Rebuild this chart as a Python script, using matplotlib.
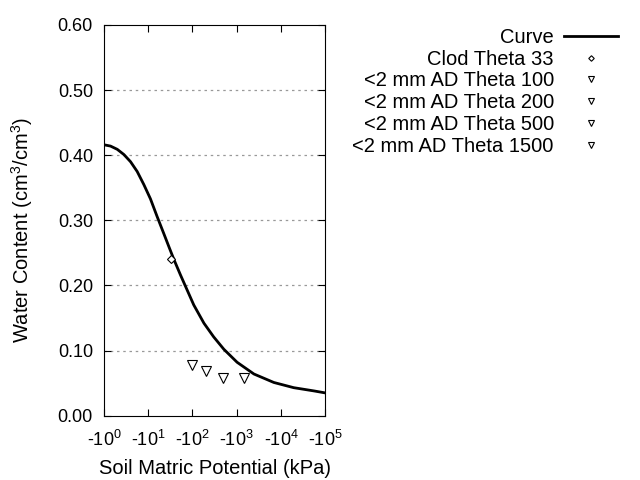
import numpy as np
import matplotlib
matplotlib.use('Agg')
import matplotlib.pyplot as plt
from matplotlib.ticker import FixedLocator, FixedFormatter

plt.rcParams['font.family'] = ['Liberation Sans', 'DejaVu Sans']
plt.rcParams['mathtext.default'] = 'regular'
plt.rcParams['axes.unicode_minus'] = False

# curve: decade of |matric potential| (kPa), water content
curve_logx = [0, 0.147, 0.30, 0.45, 0.60, 0.75, 0.90, 1.05, 1.20, 1.35, 1.47,
              1.58, 1.73, 1.88, 2.03, 2.26, 2.48, 2.71, 3.01, 3.39, 3.84, 4.29,
              4.75, 5.0]
curve_y = [0.416, 0.414, 0.409, 0.401, 0.390, 0.375, 0.355, 0.333, 0.306,
           0.280, 0.259, 0.240, 0.216, 0.193, 0.170, 0.142, 0.121, 0.102,
           0.082, 0.064, 0.051, 0.043, 0.038, 0.035]
curve_x = np.power(10.0, curve_logx)

clod_x = [33]
clod_y = [0.240]

ad_labels = ['<2 mm AD Theta 100', '<2 mm AD Theta 200',
             '<2 mm AD Theta 500', '<2 mm AD Theta 1500']
ad_x = [100, 200, 500, 1500]
ad_y = [0.078, 0.069, 0.058, 0.058]

yticks = [0.0, 0.1, 0.2, 0.3, 0.4, 0.5, 0.6]
xticks = [1, 10, 100, 1000, 10000, 100000]
xlabels = ['-10$^{%d}$' % i for i in range(6)]

fig = plt.figure(figsize=(6.4, 4.8), dpi=100)
ax = fig.add_axes([0.1625, 0.134, 0.3455, 0.814])

ax.plot(curve_x, curve_y, color='black', lw=2, label='Curve')
ax.plot(clod_x, clod_y, ls='none', marker='D', ms=4, mfc='white', mec='black',
        mew=0.8, label='Clod Theta 33')
for lab, xv, yv in zip(ad_labels, ad_x, ad_y):
    ax.plot([xv], [yv], ls='none', marker='v', ms=6.5, mfc='white', mec='black',
            mew=0.8, label=lab)

ax.set_xscale('log')
ax.set_xlim(1, 100000)
ax.set_ylim(0, 0.6)
ax.xaxis.set_major_locator(FixedLocator(xticks))
ax.xaxis.set_major_formatter(FixedFormatter(xlabels))
ax.xaxis.set_minor_locator(FixedLocator([]))
ax.set_yticks(yticks)
ax.set_yticklabels(['%.2f' % v for v in yticks])
ax.tick_params(direction='in', top=True, right=True, length=5, labelsize=13)
ax.tick_params(axis='x', pad=10)
ax.tick_params(axis='y', pad=8)
for g in [0.1, 0.2, 0.3, 0.4, 0.5]:
    ax.axhline(g, color='#999999', ls=(0, (2, 3)), lw=0.9, zorder=0)

ax.set_xlabel('Soil Matric Potential (kPa)', fontsize=14.5)
ax.set_ylabel('Water Content (cm$^3$/cm$^3$)', fontsize=14.5)
ax.xaxis.set_label_coords(0.5, -0.11)
ax.yaxis.set_label_coords(-0.31, 0.475)

fig.legend(loc='upper right', bbox_to_anchor=(0.966, 0.942), frameon=False,
           markerfirst=False, fontsize=14.5, handlelength=2.7, numpoints=1,
           labelspacing=0.14, handletextpad=0.5, borderpad=0, borderaxespad=0,
           markerscale=0.7)

fig.savefig('out.png', dpi=100)
